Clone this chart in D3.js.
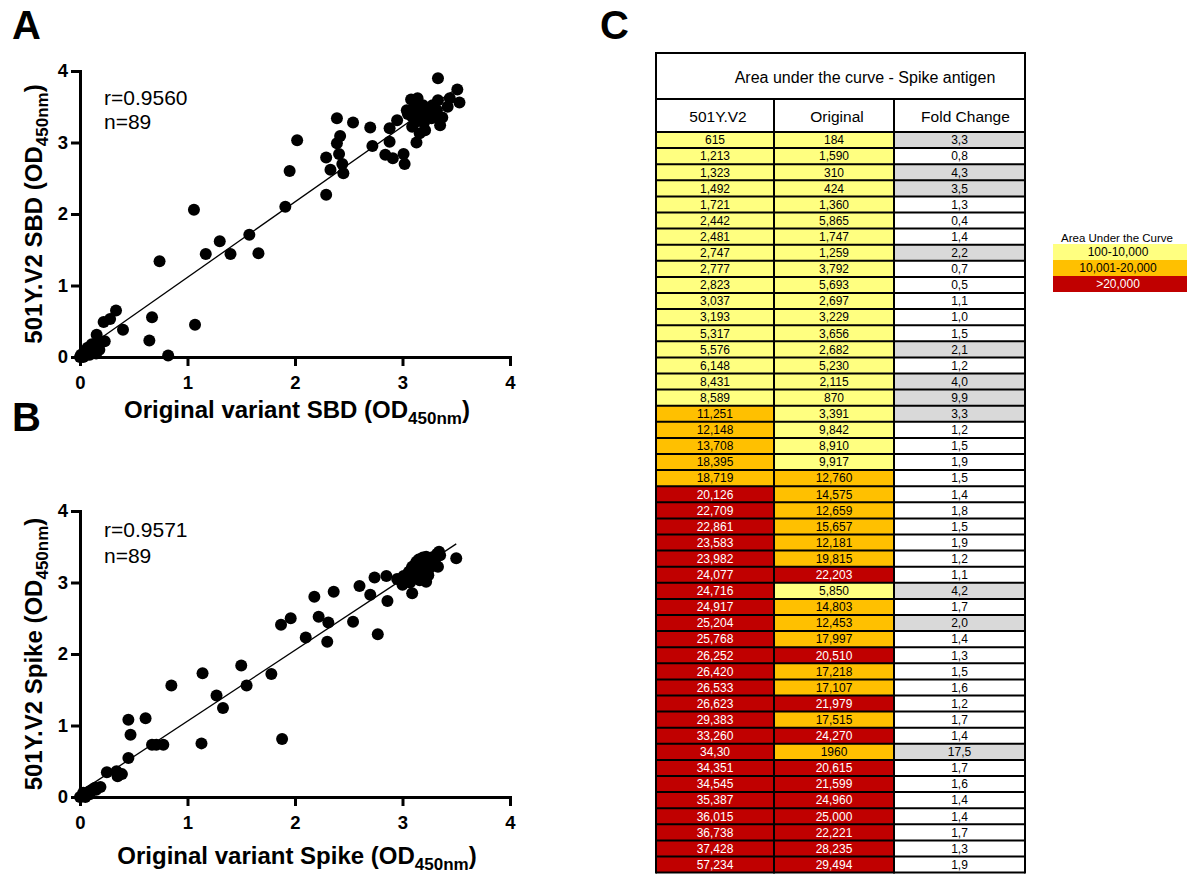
<!DOCTYPE html>
<html><head><meta charset="utf-8">
<script src="https://cdn.jsdelivr.net/npm/d3@7"></script>
<style>body{margin:0;background:#fff} svg{display:block} text{font-family:"Liberation Sans",Arial,sans-serif}</style>
</head><body>
<svg id="c" width="1187" height="874"></svg>
<script>
// ---------- Panel A data (SBD, OD450nm) ----------
const sbdOriginal = [3.33,3.51,3.53,3.42,3.37,3.35,3.33,3.44,3.08,3.04,3.12,3.16,3.19,3.21,3.13,3.09,3.18,3.22,3.27,3.29,3.09,3.21,3.16,3.13,3.32,2.95,2.88,2.88,2.84,2.91,3.01,3.02,2.72,2.70,2.54,2.39,2.42,2.39,2.41,2.44,2.45,2.29,2.33,2.29,2.02,1.95,1.91,
  1.06,0.74,1.17,1.30,1.40,1.575,1.66,
  0.335,0.28,0.22,0.40,0.67,0.645,1.07,0.82,0.155,0.23,0.18,
  0.00,0.02,0.03,0.05,0.06,0.08,0.10,0.07,0.12,0.14,0.16,0.15,0.04,0.09,0.11,0.01,
  3.10,3.15,3.25,3.05,3.20,3.28,3.14,3.30];
const sbdVariant = [3.90,3.74,3.56,3.50,3.35,3.24,3.59,3.62,3.60,3.45,3.55,3.50,3.52,3.43,3.41,3.36,3.38,3.36,3.34,3.41,3.22,3.17,3.13,3.00,3.45,3.31,3.20,3.01,2.83,2.78,2.84,2.70,2.95,3.21,3.28,3.34,3.09,2.99,2.84,2.70,2.57,2.79,2.62,2.27,3.03,2.60,2.10,
  2.06,1.34,1.44,1.62,1.44,1.71,1.45,
  0.65,0.53,0.49,0.38,0.555,0.23,0.45,0.02,0.31,0.22,0.10,
  0.00,0.01,0.00,0.02,0.05,0.10,0.15,0.13,0.08,0.12,0.17,0.05,0.06,0.03,0.18,0.03,
  3.47,3.30,3.45,3.40,3.28,3.52,3.62,3.38];
const sbdFitX = [0.02, 3.46];
const sbdFitY = [0.08, 3.71];
const sbdStats = ["r=0.9560", "n=89"];

// ---------- Panel B data (Spike, OD450nm) ----------
const spikeOriginal = [3.50,3.34,3.29,3.22,3.30,3.22,3.22,3.13,3.09,3.06,3.01,2.95,3.00,3.09,3.15,3.16,3.18,3.25,2.85,2.74,2.60,2.70,2.86,2.36,2.18,2.22,2.31,2.30,2.10,2.54,2.77,1.96,1.87,1.78,1.88,
  1.14,0.85,0.45,0.61,0.47,1.27,1.33,1.50,1.55,1.13,0.67,0.71,0.775,0.45,0.25,0.34,0.35,0.39,0.19,
  0.00,0.02,0.04,0.06,0.08,0.10,0.12,0.14,0.05,0.09,0.03,0.15,
  3.05,3.08,3.12,3.10,3.14,3.17,3.20,3.22,3.25,3.27,3.30,3.32,3.35,3.12,3.18,3.03,3.07,3.15,3.24,3.28,3.19,3.10,3.33];
const spikeVariant = [3.34,3.43,3.35,3.36,3.24,3.24,3.01,3.29,3.22,3.15,3.09,3.05,2.97,2.85,3.10,3.03,3.20,3.29,3.09,3.07,2.95,2.83,2.74,2.87,2.80,2.52,2.44,2.17,2.23,2.45,2.275,2.50,2.41,1.72,0.81,
  1.73,1.56,1.08,1.10,0.87,1.42,1.245,1.84,1.56,0.75,0.73,0.73,0.73,0.545,0.345,0.36,0.29,0.32,0.14,
  0.00,0.01,0.03,0.05,0.07,0.09,0.11,0.13,0.00,0.04,0.06,0.10,
  3.12,3.18,3.20,3.06,3.14,3.25,3.15,3.30,3.20,3.35,3.30,3.40,3.38,3.26,3.08,3.02,3.00,3.32,3.10,3.26,3.35,3.12,3.22];
const spikeFitX = [0.03, 3.50];
const spikeFitY = [0.10, 3.54];
const spikeStats = ["r=0.9571", "n=89"];

const axisTicks = [0, 1, 2, 3, 4];

// ---------- Panel C data (AUC table) ----------
const tableTitle = "Area under the curve - Spike antigen";
const tableHeaders = ["501Y.V2", "Original", "Fold Change"];
const variantAUC = ["615","1,213","1,323","1,492","1,721","2,442","2,481","2,747","2,777","2,823","3,037","3,193","5,317","5,576","6,148","8,431","8,589","11,251","12,148","13,708","18,395","18,719","20,126","22,709","22,861","23,583","23,982","24,077","24,716","24,917","25,204","25,768","26,252","26,420","26,533","26,623","29,383","33,260","34,30","34,351","34,545","35,387","36,015","36,738","37,428","57,234"];
const variantTier = [1,1,1,1,1,1,1,1,1,1,1,1,1,1,1,1,1,2,2,2,2,2,3,3,3,3,3,3,3,3,3,3,3,3,3,3,3,3,3,3,3,3,3,3,3,3];
const originalAUC = ["184","1,590","310","424","1,360","5,865","1,747","1,259","3,792","5,693","2,697","3,229","3,656","2,682","5,230","2,115","870","3,391","9,842","8,910","9,917","12,760","14,575","12,659","15,657","12,181","19,815","22,203","5,850","14,803","12,453","17,997","20,510","17,218","17,107","21,979","17,515","24,270","1960","20,615","21,599","24,960","25,000","22,221","28,235","29,494"];
const originalTier = [1,1,1,1,1,1,1,1,1,1,1,1,1,1,1,1,1,1,1,1,1,2,2,2,2,2,2,3,1,2,2,2,3,2,2,3,2,3,2,3,3,3,3,3,3,3];
const foldChange = [3.3,0.8,4.3,3.5,1.3,0.4,1.4,2.2,0.7,0.5,1.1,1.0,1.5,2.1,1.2,4.0,9.9,3.3,1.2,1.5,1.9,1.5,1.4,1.8,1.5,1.9,1.2,1.1,4.2,1.7,2.0,1.4,1.3,1.5,1.6,1.2,1.7,1.4,17.5,1.7,1.6,1.4,1.4,1.7,1.3,1.9];
const legendTitle = "Area Under the Curve";
const legendLabels = ["100-10,000", "10,001-20,000", ">20,000"];

// ---------- drawing ----------
const svg = d3.select("#c");
const FONT = '"Liberation Sans", Arial, sans-serif';
const tierFill = {1: "#FFFF80", 2: "#FFC000", 3: "#C00000"};
const tierText = {1: "#000", 2: "#000", 3: "#fff"};

function panel(o) {
  const x = d3.scaleLinear().domain([0, 4]).range([80, 510]);
  const y = d3.scaleLinear().domain([0, 4]).range([o.y0, o.y0 - 286]);
  const g = svg.append("g");

  const xa = g.append("g").attr("transform", `translate(0,${o.y0})`)
    .call(d3.axisBottom(x).tickValues(axisTicks).tickFormat(d3.format("d")).tickSize(9).tickSizeOuter(0).tickPadding(10));
  const ya = g.append("g").attr("transform", `translate(80,0)`)
    .call(d3.axisLeft(y).tickValues(axisTicks).tickFormat(d3.format("d")).tickSize(9).tickSizeOuter(0).tickPadding(3));
  [xa, ya].forEach(a => {
    a.select(".domain").attr("stroke-width", 3).attr("stroke-linecap", "square");
    a.selectAll(".tick line").attr("stroke-width", 3);
    a.selectAll(".tick text").attr("font-family", FONT).attr("font-size", 18.5).attr("font-weight", "bold").attr("fill", "#000");
  });

  // fit line
  g.append("line")
    .attr("x1", x(o.fitX[0])).attr("y1", y(o.fitY[0]))
    .attr("x2", x(o.fitX[1])).attr("y2", y(o.fitY[1]))
    .attr("stroke", "#000").attr("stroke-width", 1.3);

  // points
  g.selectAll("circle").data(o.xs.map((v, i) => [v, o.ys[i]])).join("circle")
    .attr("cx", d => x(d[0])).attr("cy", d => y(d[1])).attr("r", 6).attr("fill", "#000");

  // stats
  o.stats.forEach((s, i) => g.append("text").attr("x", 104).attr("y", o.statY[i])
    .attr("font-size", 21).attr("fill", "#000").text(s));

  // x title
  const xt = g.append("text").attr("x", 297).attr("y", o.xTitleY).attr("text-anchor", "middle")
    .attr("font-size", 24).attr("font-weight", "bold").attr("fill", "#000");
  xt.append("tspan").text(o.xTitle + " (OD");
  xt.append("tspan").attr("font-size", 17).attr("dy", 6).text("450nm");
  xt.append("tspan").attr("dy", -6).text(")");

  // y title
  const yt = g.append("text").attr("transform", `translate(42,${o.y0 - 143}) rotate(-90)`).attr("text-anchor", "middle")
    .attr("font-size", 24).attr("font-weight", "bold").attr("fill", "#000");
  yt.append("tspan").text(o.yTitle + " (OD");
  yt.append("tspan").attr("font-size", 17).attr("dy", 6).text("450nm");
  yt.append("tspan").attr("dy", -6).text(")");
}

panel({y0: 357, xs: sbdOriginal, ys: sbdVariant, fitX: sbdFitX, fitY: sbdFitY, stats: sbdStats, statY: [105, 129],
  xTitle: "Original variant SBD", yTitle: "501Y.V2 SBD", xTitleY: 418});
panel({y0: 797, xs: spikeOriginal, ys: spikeVariant, fitX: spikeFitX, fitY: spikeFitY, stats: spikeStats, statY: [537, 563],
  xTitle: "Original variant Spike", yTitle: "501Y.V2 Spike", xTitleY: 864});

// panel letters
[["A", 12, 39], ["B", 12, 431], ["C", 600, 39]].forEach(([t, px, py]) =>
  svg.append("text").attr("x", px).attr("y", py).attr("font-size", 40).attr("font-weight", "bold").attr("fill", "#000").text(t));

// ---------- table ----------
const colEdges = [656, 774, 894, 1025];
const tTop = 53, hTop = 99, dTop = 132, rowH = 16.1;
const rows = d3.scaleBand().domain(d3.range(variantAUC.length)).range([dTop, dTop + variantAUC.length * rowH]);
const tg = svg.append("g");
const cells = [];
variantAUC.forEach((v, i) => {
  cells.push({c: 0, i, text: v, fill: tierFill[variantTier[i]], color: tierText[variantTier[i]]});
  cells.push({c: 1, i, text: originalAUC[i], fill: tierFill[originalTier[i]], color: tierText[originalTier[i]]});
  cells.push({c: 2, i, text: d3.format(".1f")(foldChange[i]).replace(".", ","), fill: foldChange[i] >= 2 ? "#D9D9D9" : "#fff", color: "#000"});
});
tg.selectAll("rect.cell").data(cells).join("rect").attr("class", "cell")
  .attr("x", d => colEdges[d.c]).attr("y", d => rows(d.i))
  .attr("width", d => colEdges[d.c + 1] - colEdges[d.c]).attr("height", rows.bandwidth()).attr("fill", d => d.fill);
tg.selectAll("text.cell").data(cells).join("text").attr("class", "cell")
  .attr("x", d => (colEdges[d.c] + colEdges[d.c + 1]) / 2).attr("y", d => rows(d.i) + rows.bandwidth() / 2 + 4.3)
  .attr("text-anchor", "middle").attr("font-size", 12).attr("fill", d => d.color).text(d => d.text);

const bottom = dTop + variantAUC.length * rowH;
// grid
const hLines = [tTop, hTop, dTop].concat(d3.range(1, variantAUC.length + 1).map(i => dTop + i * rowH));
tg.selectAll("line.h").data(hLines).join("line").attr("class", "h")
  .attr("x1", colEdges[0]).attr("x2", colEdges[3]).attr("y1", d => d).attr("y2", d => d)
  .attr("stroke", "#000").attr("stroke-width", 2);
tg.selectAll("line.v").data(colEdges).join("line").attr("class", "v")
  .attr("x1", d => d).attr("x2", d => d)
  .attr("y1", (d, i) => (i === 0 || i === 3) ? tTop - 1 : hTop).attr("y2", bottom + 1)
  .attr("stroke", "#000").attr("stroke-width", 2);

tg.append("text").attr("x", 865).attr("y", 83).attr("text-anchor", "middle").attr("font-size", 16).attr("fill", "#000").text(tableTitle);
tableHeaders.forEach((h, c) => tg.append("text").attr("x", (colEdges[c] + colEdges[c + 1]) / 2 + (c === 2 ? 6 : 3)).attr("y", 122)
  .attr("text-anchor", "middle").attr("font-size", 15.5).attr("fill", "#000").text(h));

// legend
const lg = svg.append("g");
lg.append("text").attr("x", 1117).attr("y", 241.5).attr("text-anchor", "middle").attr("font-size", 11.5).attr("fill", "#000").text(legendTitle);
const ly = d3.scaleBand().domain([0, 1, 2]).range([244, 292]);
legendLabels.forEach((l, i) => {
  lg.append("rect").attr("x", 1053).attr("y", ly(i)).attr("width", 134).attr("height", ly.bandwidth()).attr("fill", tierFill[i + 1]);
  lg.append("text").attr("x", 1118).attr("y", ly(i) + ly.bandwidth() / 2 + 4.3).attr("text-anchor", "middle")
    .attr("font-size", 12).attr("fill", tierText[i + 1]).text(l);
});
</script>
</body></html>
